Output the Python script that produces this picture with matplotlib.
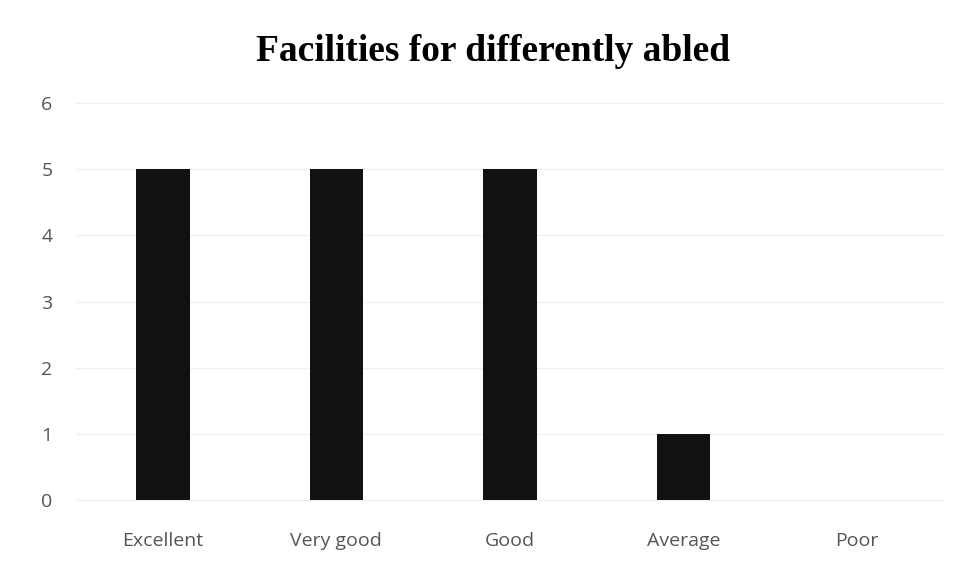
import matplotlib
matplotlib.use("Agg")
from matplotlib import pyplot as plt

categories = ["Excellent", "Very good", "Good", "Average", "Poor"]
counts = [5, 5, 5, 1, 0]
y_ticks = [0, 1, 2, 3, 4, 5, 6]

fig = plt.figure(figsize=[9.64, 5.76], dpi=100)
ax = fig.add_axes([0.079, 0.132, 0.9, 0.689])

ax.bar(range(len(categories)), counts, width=0.31, color='#111111', zorder=3)

ax.set_xlim(-0.5, len(categories) - 0.5)
ax.set_ylim(0, 6)
ax.set_yticks(y_ticks)
ax.set_xticks(range(len(categories)))
ax.set_xticklabels(categories)

# faint horizontal grid like the scanned excel chart
ax.yaxis.grid(True, color='#f0f0f0', lw=1)
ax.set_axisbelow(True)
for side in ['top', 'right', 'left']:
    ax.spines[side].set_visible(False)
ax.spines['bottom'].set_color('#f0f0f0')

ax.tick_params(axis='both', length=0, labelcolor='#555555', labelsize=14)
ax.tick_params(axis='y', pad=17)
ax.tick_params(axis='x', pad=23)
for lbl in ax.get_xticklabels() + ax.get_yticklabels():
    lbl.set_fontfamily('Open Sans')

fig.text(0.511, 0.91, "Facilities for differently abled", ha='center', va='center',
         fontsize=27, fontweight='bold', fontfamily='Liberation Serif')

fig.savefig('out.png', dpi=100)
